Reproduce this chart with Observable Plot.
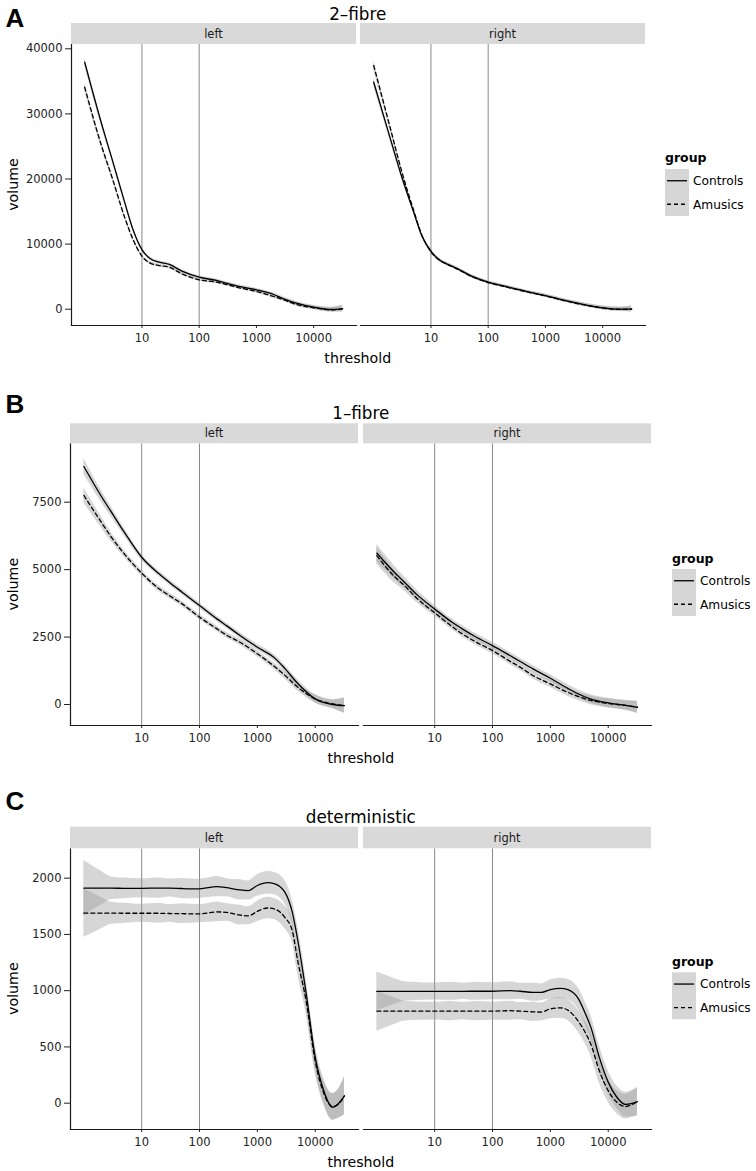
<!DOCTYPE html>
<html>
<head>
<meta charset="utf-8">
<script src="https://cdn.jsdelivr.net/npm/d3@7"></script>
<script src="https://cdn.jsdelivr.net/npm/@observablehq/plot@0.6"></script>
<style>
  body { margin: 0; background: #fff; }
  #wrap { position: relative; width: 756px; height: 1171px; overflow: hidden; background: #fff; }
  #wrap svg { position: absolute; left: 0; }
</style>
</head>
<body>
<div id="wrap"></div>
<script>
// ---------- data ----------
const sides = ["left", "right"];
const groups = ["Controls", "Amusics"];
const xTicks = [10, 100, 1000, 10000];
const vlines = [10, 100];

// Panel A: 2-fibre
const thrA = [1, 2, 3, 5, 7, 10, 14, 20, 30, 50, 100, 200, 300, 500, 1000, 2000, 3000, 5000, 10000, 20000, 32000];
const A_left_ctrl  = [37940, 28300, 23100, 16400, 12200, 9150, 7740, 7220, 6870, 5840, 4920, 4410, 3990, 3490, 2980, 2260, 1600, 920, 310, -50, 100];
const A_left_amus  = [34100, 24900, 20280, 14100, 10700, 8150, 7070, 6710, 6450, 5430, 4520, 4150, 3790, 3290, 2720, 1950, 1440, 720, 210, -100, 50];
const A_left_ctrl_se = [600, 450, 380, 300, 260, 250, 240, 230, 230, 230, 230, 230, 230, 230, 240, 250, 260, 270, 300, 350, 500];
const A_left_amus_se = [620, 460, 390, 310, 270, 250, 240, 230, 230, 230, 230, 230, 230, 230, 240, 250, 260, 270, 300, 350, 500];
const A_right_ctrl = [34870, 25900, 20690, 14900, 11200, 8900, 7590, 6870, 6150, 5130, 4150, 3490, 3130, 2670, 2100, 1440, 1080, 670, 210, 0, 50];
const A_right_amus = [37430, 27450, 21560, 15150, 11300, 8850, 7540, 6820, 6100, 5080, 4100, 3440, 3070, 2610, 2040, 1380, 1020, 620, 170, -20, 30];
const A_right_ctrl_se = [700, 500, 400, 320, 280, 250, 230, 220, 220, 220, 220, 220, 220, 220, 230, 240, 250, 260, 280, 320, 450];
const A_right_amus_se = [720, 510, 410, 330, 280, 250, 230, 220, 220, 220, 220, 220, 220, 220, 230, 240, 250, 260, 280, 320, 450];

// Panel B: 1-fibre
const thrB = [1, 2, 3, 5, 10, 20, 30, 50, 100, 200, 300, 500, 1000, 2000, 3000, 5000, 10000, 20000, 32000];
const B_left_ctrl  = [8823, 7720, 7130, 6390, 5460, 4845, 4535, 4165, 3670, 3175, 2905, 2560, 2125, 1720, 1330, 780, 210, 0, -40];
const B_left_amus  = [7750, 6760, 6200, 5585, 4870, 4290, 4040, 3730, 3240, 2805, 2560, 2310, 1880, 1400, 1080, 640, 210, 25, -40];
const B_left_ctrl_se = [300, 220, 180, 140, 110, 100, 100, 100, 100, 100, 100, 110, 110, 120, 130, 140, 150, 160, 280];
const B_left_amus_se = [280, 210, 170, 130, 110, 100, 100, 100, 100, 100, 100, 110, 110, 120, 130, 140, 150, 160, 280];
const B_right_ctrl = [5610, 4905, 4535, 4065, 3545, 3050, 2805, 2520, 2185, 1815, 1595, 1320, 975, 600, 400, 200, 60, -30, -100];
const B_right_amus = [5520, 4750, 4410, 3920, 3400, 2890, 2620, 2335, 2000, 1605, 1385, 1075, 765, 450, 300, 150, 40, -35, -100];
const B_right_ctrl_se = [320, 240, 200, 160, 130, 120, 120, 120, 120, 120, 120, 130, 130, 140, 150, 160, 170, 180, 220];
const B_right_amus_se = [320, 240, 200, 160, 130, 120, 120, 120, 120, 120, 120, 130, 130, 140, 150, 160, 170, 180, 220];

// Panel C: deterministic
const thrC = [1, 2, 3, 5, 10, 20, 30, 50, 100, 200, 300, 500, 700, 1000, 1500, 2000, 3000, 4000, 5000, 7000, 10000, 14000, 20000, 25000, 32000];
const C_left_ctrl  = [1911, 1911, 1911, 1910, 1910, 1912, 1912, 1908, 1905, 1925, 1915, 1895, 1890, 1935, 1960, 1950, 1873, 1700, 1446, 972, 409, 113, -36, -5, 65];
const C_left_amus  = [1689, 1689, 1689, 1688, 1688, 1688, 1686, 1684, 1683, 1700, 1695, 1672, 1665, 1705, 1735, 1725, 1650, 1535, 1260, 903, 372, 92, -30, -10, 65];
const C_left_ctrl_se = [246, 150, 100, 92, 85, 90, 80, 90, 85, 90, 80, 90, 85, 95, 100, 100, 105, 110, 120, 120, 110, 110, 120, 130, 170];
const C_left_amus_se = [215, 140, 98, 90, 80, 88, 78, 88, 80, 88, 78, 88, 80, 90, 95, 95, 100, 105, 115, 115, 105, 105, 115, 125, 165];
const C_right_ctrl = [993, 993, 993, 993, 993, 994, 994, 995, 995, 1000, 995, 985, 985, 1010, 1020, 1010, 934, 800, 676, 409, 187, 55, -12, -5, 13];
const C_right_amus = [818, 818, 818, 818, 818, 818, 818, 818, 818, 822, 818, 812, 810, 838, 847, 827, 732, 630, 525, 289, 111, 10, -30, -15, 13];
const C_right_ctrl_se = [172, 115, 87, 80, 75, 80, 72, 80, 75, 80, 72, 80, 75, 85, 90, 90, 95, 100, 105, 105, 100, 100, 110, 115, 125];
const C_right_amus_se = [178, 118, 88, 82, 78, 85, 76, 85, 80, 85, 76, 85, 80, 88, 92, 92, 98, 102, 108, 108, 102, 102, 110, 115, 125];

const xDomain = [0.588, 56000];
const yTicksA = [0, 10000, 20000, 30000, 40000];
const yTicksB = [0, 2500, 5000, 7500];
const yTicksC = [0, 500, 1000, 1500, 2000];

// ---------- helpers ----------
const FONT = "'DejaVu Sans', Verdana, sans-serif";
function series(thr, side, group, vals, se) {
  return thr.map((t, i) => ({t, side, group, v: vals[i], lo: vals[i] - se[i], hi: vals[i] + se[i]}));
}

const wrap = document.getElementById("wrap");

function drawPanel(cfg) {
  const {top, height, mt, mb, ml, mr, pad, yDomain, yTicks, data, title, letter,
         titleY, letterY, stripH, threshY, legend} = cfg;
  const W = 756;
  const plot = Plot.plot({
    width: W, height,
    marginTop: mt, marginBottom: mb, marginLeft: ml, marginRight: mr,
    style: {fontFamily: FONT, fontSize: "11.5px", color: "#222", background: "none", overflow: "visible"},
    fx: {domain: sides, paddingInner: pad, paddingOuter: 0, axis: null, label: null},
    x: {type: "log", domain: xDomain, ticks: xTicks, tickFormat: d3.format("d"), tickSize: 3, tickPadding: 5, label: null},
    y: {domain: yDomain, ticks: yTicks, tickFormat: d3.format("d"), tickSize: 6, tickPadding: 3, label: null},
    marks: [
      Plot.ruleX(vlines, {stroke: "#8a8a8a", strokeWidth: 1}),
      Plot.areaY(data, {x: "t", y1: "lo", y2: "hi", fx: "side", z: "group", fill: "#999999", fillOpacity: 0.4, curve: "monotone-x"}),
      Plot.line(data.filter(d => d.group === "Controls"), {x: "t", y: "v", fx: "side", stroke: "#000", strokeWidth: 1.3, curve: "monotone-x"}),
      Plot.line(data.filter(d => d.group === "Amusics"), {x: "t", y: "v", fx: "side", stroke: "#000", strokeWidth: 1.3, strokeDasharray: "4,3", curve: "monotone-x"}),
      Plot.frame({anchor: "bottom", stroke: "#1a1a1a", strokeWidth: 1.2}),
      Plot.frame({anchor: "left", facetAnchor: "left", stroke: "#1a1a1a", strokeWidth: 1.2})
    ]
  });
  plot.style.top = top + "px";
  plot.style.position = "absolute";
  wrap.appendChild(plot);

  const svg = d3.select(plot);
  const fx = plot.scale("fx");
  const bw = fx.bandwidth;
  const g = svg.append("g").attr("font-family", FONT).attr("text-anchor", "start");
  const x0 = ml, x1 = W - mr;
  // strips
  for (const s of sides) {
    const xs = fx.apply(s);
    g.append("rect").attr("x", xs).attr("y", mt - stripH).attr("width", bw).attr("height", stripH).attr("fill", "#d9d9d9");
    g.append("text").attr("x", xs + bw / 2).attr("y", mt - stripH / 2).attr("dy", "0.35em")
      .attr("text-anchor", "middle").attr("font-size", 11.5).attr("fill", "#1a1a1a").text(s);
  }
  // title
  g.append("text").attr("x", (x0 + x1) / 2).attr("y", titleY).attr("text-anchor", "middle")
    .attr("font-size", 16.8).attr("fill", "#000").text(title);
  // panel letter
  g.append("text").attr("x", 5.5).attr("y", letterY).attr("text-anchor", "start")
    .attr("font-family", "'Liberation Sans', Arial, sans-serif")
    .attr("font-weight", "bold").attr("font-size", 26).attr("fill", "#000").text(letter);
  // axis titles
  g.append("text").attr("x", (x0 + x1) / 2).attr("y", threshY).attr("text-anchor", "middle")
    .attr("font-size", 14.2).attr("fill", "#000").text("threshold");
  g.append("text").attr("transform", `translate(18,${(mt + height - mb) / 2}) rotate(-90)`)
    .attr("text-anchor", "middle").attr("font-size", 14.2).attr("fill", "#000").text("volume");
  // legend
  const L = legend;
  g.append("text").attr("x", L.x).attr("y", L.titleY).attr("dy", "0.35em").attr("text-anchor", "start")
    .attr("font-weight", "bold").attr("font-size", 12.5).attr("fill", "#000").text("group");
  g.append("rect").attr("x", L.x).attr("y", L.boxY).attr("width", 24).attr("height", 47).attr("fill", "#d6d6d6");
  groups.forEach((grp, i) => {
    const cy = L.boxY + 11.75 + i * 23.5;
    g.append("line").attr("x1", L.x + 2).attr("x2", L.x + 22).attr("y1", cy).attr("y2", cy)
      .attr("stroke", "#000").attr("stroke-width", 1.3).attr("stroke-dasharray", grp === "Amusics" ? "4,3" : null);
    g.append("text").attr("x", L.x + 28).attr("y", cy).attr("dy", "0.35em").attr("text-anchor", "start")
      .attr("font-size", 12.2).attr("fill", "#000").text(grp);
  });
}

// ---------- build ----------
const dataA = [
  ...series(thrA, "left", "Controls", A_left_ctrl, A_left_ctrl_se),
  ...series(thrA, "left", "Amusics", A_left_amus, A_left_amus_se),
  ...series(thrA, "right", "Controls", A_right_ctrl, A_right_ctrl_se),
  ...series(thrA, "right", "Amusics", A_right_amus, A_right_amus_se)
];
const dataB = [
  ...series(thrB, "left", "Controls", B_left_ctrl, B_left_ctrl_se),
  ...series(thrB, "left", "Amusics", B_left_amus, B_left_amus_se),
  ...series(thrB, "right", "Controls", B_right_ctrl, B_right_ctrl_se),
  ...series(thrB, "right", "Amusics", B_right_amus, B_right_amus_se)
];
const dataC = [
  ...series(thrC, "left", "Controls", C_left_ctrl, C_left_ctrl_se),
  ...series(thrC, "left", "Amusics", C_left_amus, C_left_amus_se),
  ...series(thrC, "right", "Controls", C_right_ctrl, C_right_ctrl_se),
  ...series(thrC, "right", "Amusics", C_right_amus, C_right_amus_se)
];

drawPanel({
  top: 0, height: 372, mt: 44, mb: 47, ml: 70, mr: 110.5, pad: 0.0155,
  yDomain: [-2504, 40660], yTicks: yTicksA, data: dataA,
  title: "2–fibre", letter: "A", titleY: 20, letterY: 27, stripH: 21, threshY: 363,
  legend: {x: 665, titleY: 158, boxY: 169}
});
drawPanel({
  top: 380, height: 390, mt: 63.3, mb: 45, ml: 69.3, mr: 103.7, pad: 0.017,
  yDomain: [-778, 9665], yTicks: yTicksB, data: dataB,
  title: "1–fibre", letter: "B", titleY: 39, letterY: 33, stripH: 20, threshY: 383,
  legend: {x: 672, titleY: 178.3, boxY: 189}
});
drawPanel({
  top: 780, height: 391, mt: 68.3, mb: 42, ml: 69.3, mr: 103.7, pad: 0.017,
  yDomain: [-234, 2261], yTicks: yTicksC, data: dataC,
  title: "deterministic", letter: "C", titleY: 43, letterY: 30, stripH: 21.6, threshY: 387,
  legend: {x: 672, titleY: 181.7, boxY: 192.3}
});
</script>
</body>
</html>
